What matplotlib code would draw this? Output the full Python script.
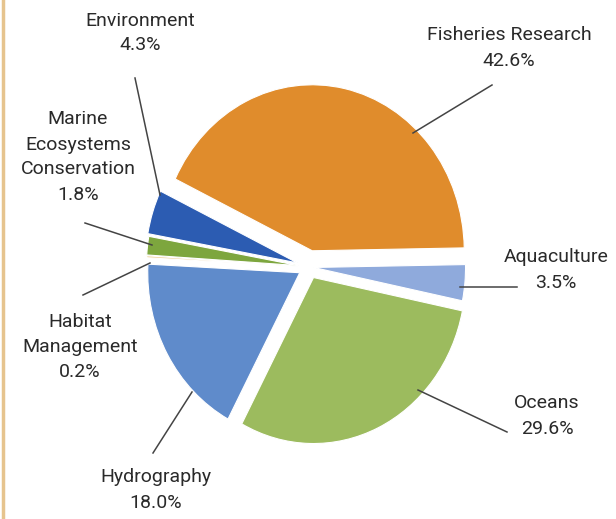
import matplotlib
matplotlib.use("Agg")
import matplotlib.pyplot as plt
import numpy as np

categories = ["Aquaculture", "Oceans", "Hydrography", "Habitat\nManagement",
              "Marine\nEcosystems\nConservation", "Environment", "Fisheries Research"]
shares = [3.5, 29.6, 18.0, 0.2, 1.8, 4.3, 42.6]
colors = ["#8FAADC", "#9CBB5E", "#5F8BCB", "#EFD3A0", "#7DA63E", "#2C5CB2", "#E08C2C"]
explode = [0.03, 0.07, 0.07, 0.07, 0.07, 0.08, 0.10]

W, H = 616, 519
CX, CY = 309, 267       # pie centre in pixels (from top)
RX, RY = 152, 166       # pixel radius horizontally / vertically

fig = plt.figure(figsize=(W / 100, H / 100), dpi=100)
fig.patch.set_facecolor("white")
ax = fig.add_axes([0, 0, 1, 1])

wedges, _ = ax.pie(shares, colors=colors, startangle=1, counterclock=False,
                   explode=explode, radius=1.0,
                   wedgeprops=dict(edgecolor="white", linewidth=0.8))
ax.set_aspect("auto")
ax.set_xlim(-CX / RX, (W - CX) / RX)
ax.set_ylim(-(H - CY) / RY, CY / RY)
ax.axis("off")


def px(x, y):
    return ((x - CX) / RX, (CY - y) / RY)


labels = [f"{c}\n{s:.1f}%" for c, s in zip(categories, shares)]
# (label centre, leader start, leader end) in pixels
layout = [
    ((556, 270), (517, 287), (460, 287)),
    ((547, 416), (507, 432), (418, 390)),
    ((156, 490), (153, 453), (192, 392)),
    ((80, 347), (83, 295), (150, 263)),
    ((78, 157), (85, 223), (152, 245)),
    ((140, 33), (135, 78), (160, 195)),
    ((509, 48), (492, 85), (413, 133)),
]
for lab, (lc, ls, le) in zip(labels, layout):
    ax.text(*px(*lc), lab, ha="center", va="center", fontsize=14,
            family=["Roboto", "DejaVu Sans"], color="#2a2a2a",
            linespacing=1.5)
    ax.plot(*zip(px(*ls), px(*le)), color="#444444", lw=1.1)

fig.add_artist(plt.Line2D([3 / W, 3 / W], [0, 1], transform=fig.transFigure,
                          color="#E6C48E", lw=2.5))
fig.savefig("out.png", dpi=100, facecolor="white")
